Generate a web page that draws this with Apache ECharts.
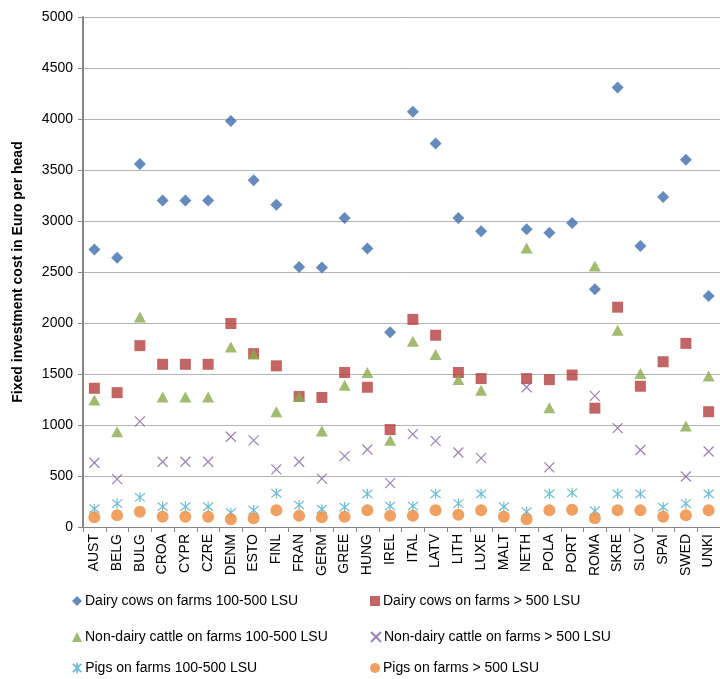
<!DOCTYPE html>
<html><head><meta charset="utf-8">
<script src="https://cdn.jsdelivr.net/npm/echarts@6/dist/echarts.min.js"></script>
<style>html,body{margin:0;padding:0;background:#fff}#c{width:720px;height:679px}</style>
</head><body><div id="c"></div>
<script>
var categories = ['AUST','BELG','BULG','CROA','CYPR','CZRE','DENM','ESTO','FINL','FRAN','GERM','GREE','HUNG','IREL','ITAL','LATV','LITH','LUXE','MALT','NETH','POLA','PORT','ROMA','SKRE','SLOV','SPAI','SWED','UNKI'];
var seriesNames = ['Dairy cows on farms 100-500 LSU','Dairy cows on farms > 500 LSU','Non-dairy cattle on farms 100-500 LSU','Non-dairy cattle on farms > 500 LSU','Pigs on farms 100-500 LSU','Pigs on farms > 500 LSU'];
var dairy100 = [2720,2640,3560,3200,3200,3200,3980,3400,3160,2550,2545,3030,2730,1910,4070,3760,3030,2900,null,2920,2885,2980,2330,4310,2755,3235,3600,2265];
var dairy500 = [1360,1317,1778,1595,1595,1595,1995,1700,1580,1280,1270,1515,1370,955,2035,1880,1515,1455,null,1455,1445,1490,1165,2155,1380,1620,1800,1130];
var nondairy100 = [1245,935,2060,1275,1275,1275,1765,1695,1130,1280,940,1390,1515,850,1820,1690,1445,1340,null,2735,1170,null,2560,1930,1505,null,990,1480];
var nondairy500 = [630,470,1035,640,640,640,885,850,565,640,475,695,760,430,910,845,730,675,null,1370,585,null,1285,970,755,null,495,740];
var pigs100 = [180,230,290,200,200,200,140,165,330,215,175,195,325,205,205,325,230,325,200,150,325,335,160,325,325,195,230,325];
var pigs500 = [95,115,150,100,100,100,75,85,165,110,95,100,165,110,110,165,120,165,100,75,165,170,85,165,165,100,115,165];
var yTicks = {min:0, max:5000, interval:500};

var colors = ['#3F6EAD','#B43F3D','#8BAA4C','#7D62A0','#4BACC6','#EC8A3A'];
var symbols = ['diamond','rect','triangle','path://M0,0L10,10M10,0L0,10','path://M0,0L10,10M10,0L0,10M5,-1L5,11','circle'];
var sizes = [[12,12],[11,11],[12,11],[10,10],[10,10],[12,12]];
var values = [dairy100,dairy500,nondairy100,nondairy500,pigs100,pigs500];
var strokeOnly = [false,false,false,true,true,false];
var FONT = 'Liberation Sans';

var series = values.map(function(v,i){
  var st = strokeOnly[i] ? {color:colors[i], borderColor:colors[i], borderWidth:1.2} : {color:colors[i]};
  return {name:seriesNames[i], type:'scatter', data:v, symbol:symbols[i], symbolSize:sizes[i], itemStyle:st, z: 10+i};
});

var legendPos = [[72,594],[370,594],[72,630],[370,630],[72,661],[370,661]];
var legends = seriesNames.map(function(n,i){
  return {data:[n], left:legendPos[i][0], top:legendPos[i][1], itemWidth:10, itemHeight:10, itemGap:4,
    textStyle:{fontFamily:FONT, fontSize:14, color:'#000', padding:[0,0,0,-2]}, padding:0};
});

var chart = echarts.init(document.getElementById('c'), null, {renderer:'canvas'});
chart.setOption({
  animation:false,
  color:colors,
  grid:{left:83, right:0, top:17, bottom:152, containLabel:false},
  legend:legends,
  xAxis:{type:'category', data:categories, boundaryGap:true,
    axisLine:{lineStyle:{color:'#868686', width:1}},
    axisTick:{show:true, length:5, alignWithLabel:false, lineStyle:{color:'#868686'}},
    axisLabel:{rotate:90, interval:0, fontFamily:FONT, fontSize:14, color:'#000', margin:7}},
  yAxis:{type:'value', min:yTicks.min, max:yTicks.max, interval:yTicks.interval,
    name:'Fixed investment cost in Euro per head', nameLocation:'middle', nameGap:58,
    nameTextStyle:{fontFamily:FONT, fontSize:14, fontWeight:'bold', color:'#000'},
    axisLine:{show:true, lineStyle:{color:'#868686', width:2}},
    axisTick:{show:true, length:5, lineStyle:{color:'#868686'}},
    axisLabel:{fontFamily:FONT, fontSize:14, color:'#000', margin:10, formatter:function(v){return String(v);}},
    splitLine:{lineStyle:{color:'#b4b4b4', width:1}}},
  series:series
});
</script></body></html>
